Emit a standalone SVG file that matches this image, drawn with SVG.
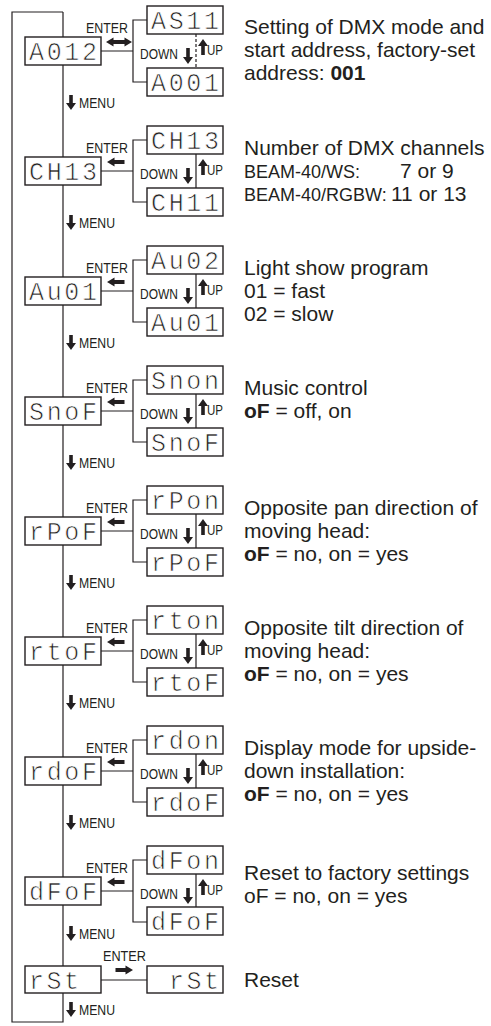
<svg xmlns="http://www.w3.org/2000/svg" width="491" height="1026" viewBox="0 0 491 1026">
<style>
.ln{stroke:#231f20;stroke-width:1.2;fill:none}
.dash{stroke:#231f20;stroke-width:1.2;fill:none;stroke-dasharray:3 2}
.box{fill:#fff;stroke:#231f20;stroke-width:1.4}
.seg{font-family:"Liberation Mono","DejaVu Sans Mono",monospace;font-size:25px;fill:#231f20;stroke:#fff;stroke-width:0.7}
.lbl{font-family:"Liberation Sans",Arial,sans-serif;font-size:15px;fill:#231f20}
.desc{font-family:"Liberation Sans",Arial,sans-serif;font-size:21px;fill:#231f20}
.sm{font-family:"Liberation Sans",Arial,sans-serif;font-size:18px;fill:#231f20}
.arr{fill:#231f20}
</style>
<defs>
<path id="mdn" d="M-1.8 0h3.6v8h3.2l-5 7l-5-7h3.2z"/>
<path id="dn" d="M-1.8 0h3.6v9h3.2l-5 7l-5-7h3.2z"/>
<path id="up" d="M0 0l5 7h-3.2v9h-3.6v-9h-3.2z"/>
<path id="lt" d="M0 0l7.5-4.5v2.6h10v3.8h-10v2.6z"/>
<path id="rt" d="M0 0l-7.5-4.5v2.6h-10v3.8h10v2.6z"/>
<path id="dbl" d="M0 0l7.5-4.5v2.6h11v-2.6l7.5 4.5l-7.5 4.5v-2.6h-11v2.6z"/>
</defs>
<g id="connectors">
<path class="ln" d="M63 12H12V1022H63V12"/>
<g id="c0"><path class="ln" d="M101 51H133M147 20H133V82H147"/><path class="dash" d="M196 34V68"/><use class="arr" href="#dbl" x="106" y="42"/><use class="arr" href="#dn" x="188" y="48"/><use class="arr" href="#up" x="203" y="39"/><use class="arr" href="#mdn" x="71" y="95"/></g>
<g id="c1" transform="translate(0,120)"><path class="ln" d="M101 51H133M147 20H133V82H147M196 34V68"/><use class="arr" href="#lt" x="107" y="42"/><use class="arr" href="#dn" x="188" y="48"/><use class="arr" href="#up" x="203" y="39"/><use class="arr" href="#mdn" x="71" y="95"/></g>
<g id="c2" transform="translate(0,240)"><path class="ln" d="M101 51H133M147 20H133V82H147M196 34V68"/><use class="arr" href="#lt" x="107" y="42"/><use class="arr" href="#dn" x="188" y="48"/><use class="arr" href="#up" x="203" y="39"/><use class="arr" href="#mdn" x="71" y="95"/></g>
<g id="c3" transform="translate(0,360)"><path class="ln" d="M101 51H133M147 20H133V82H147M196 34V68"/><use class="arr" href="#lt" x="107" y="42"/><use class="arr" href="#dn" x="188" y="48"/><use class="arr" href="#up" x="203" y="39"/><use class="arr" href="#mdn" x="71" y="95"/></g>
<g id="c4" transform="translate(0,480)"><path class="ln" d="M101 51H133M147 20H133V82H147M196 34V68"/><use class="arr" href="#lt" x="107" y="42"/><use class="arr" href="#dn" x="188" y="48"/><use class="arr" href="#up" x="203" y="39"/><use class="arr" href="#mdn" x="71" y="95"/></g>
<g id="c5" transform="translate(0,600)"><path class="ln" d="M101 51H133M147 20H133V82H147M196 34V68"/><use class="arr" href="#lt" x="107" y="42"/><use class="arr" href="#dn" x="188" y="48"/><use class="arr" href="#up" x="203" y="39"/><use class="arr" href="#mdn" x="71" y="95"/></g>
<g id="c6" transform="translate(0,720)"><path class="ln" d="M101 51H133M147 20H133V82H147M196 34V68"/><use class="arr" href="#lt" x="107" y="42"/><use class="arr" href="#dn" x="188" y="48"/><use class="arr" href="#up" x="203" y="39"/><use class="arr" href="#mdn" x="71" y="95"/></g>
<g id="c7" transform="translate(0,840)"><path class="ln" d="M101 51H133M147 20H133V82H147M196 34V68"/><use class="arr" href="#lt" x="107" y="42"/><use class="arr" href="#dn" x="188" y="48"/><use class="arr" href="#up" x="203" y="39"/><use class="arr" href="#mdn" x="71" y="86"/></g>
<g id="c8"><path class="ln" d="M101 980H147"/><use class="arr" href="#rt" x="133" y="970"/><use class="arr" href="#mdn" x="71" y="1002"/></g>
</g>
<g id="labels">
<text class="lbl" x="86" y="33" textLength="42" lengthAdjust="spacingAndGlyphs">ENTER</text><text class="lbl" x="140" y="59" textLength="38" lengthAdjust="spacingAndGlyphs">DOWN</text><text class="lbl" x="207" y="55" textLength="16" lengthAdjust="spacingAndGlyphs">UP</text><text class="lbl" x="79" y="108" textLength="36" lengthAdjust="spacingAndGlyphs">MENU</text>
<text class="lbl" x="86" y="153" textLength="42" lengthAdjust="spacingAndGlyphs">ENTER</text><text class="lbl" x="140" y="179" textLength="38" lengthAdjust="spacingAndGlyphs">DOWN</text><text class="lbl" x="207" y="175" textLength="16" lengthAdjust="spacingAndGlyphs">UP</text><text class="lbl" x="79" y="228" textLength="36" lengthAdjust="spacingAndGlyphs">MENU</text>
<text class="lbl" x="86" y="273" textLength="42" lengthAdjust="spacingAndGlyphs">ENTER</text><text class="lbl" x="140" y="299" textLength="38" lengthAdjust="spacingAndGlyphs">DOWN</text><text class="lbl" x="207" y="295" textLength="16" lengthAdjust="spacingAndGlyphs">UP</text><text class="lbl" x="79" y="348" textLength="36" lengthAdjust="spacingAndGlyphs">MENU</text>
<text class="lbl" x="86" y="393" textLength="42" lengthAdjust="spacingAndGlyphs">ENTER</text><text class="lbl" x="140" y="419" textLength="38" lengthAdjust="spacingAndGlyphs">DOWN</text><text class="lbl" x="207" y="415" textLength="16" lengthAdjust="spacingAndGlyphs">UP</text><text class="lbl" x="79" y="468" textLength="36" lengthAdjust="spacingAndGlyphs">MENU</text>
<text class="lbl" x="86" y="513" textLength="42" lengthAdjust="spacingAndGlyphs">ENTER</text><text class="lbl" x="140" y="539" textLength="38" lengthAdjust="spacingAndGlyphs">DOWN</text><text class="lbl" x="207" y="535" textLength="16" lengthAdjust="spacingAndGlyphs">UP</text><text class="lbl" x="79" y="588" textLength="36" lengthAdjust="spacingAndGlyphs">MENU</text>
<text class="lbl" x="86" y="633" textLength="42" lengthAdjust="spacingAndGlyphs">ENTER</text><text class="lbl" x="140" y="659" textLength="38" lengthAdjust="spacingAndGlyphs">DOWN</text><text class="lbl" x="207" y="655" textLength="16" lengthAdjust="spacingAndGlyphs">UP</text><text class="lbl" x="79" y="708" textLength="36" lengthAdjust="spacingAndGlyphs">MENU</text>
<text class="lbl" x="86" y="753" textLength="42" lengthAdjust="spacingAndGlyphs">ENTER</text><text class="lbl" x="140" y="779" textLength="38" lengthAdjust="spacingAndGlyphs">DOWN</text><text class="lbl" x="207" y="775" textLength="16" lengthAdjust="spacingAndGlyphs">UP</text><text class="lbl" x="79" y="828" textLength="36" lengthAdjust="spacingAndGlyphs">MENU</text>
<text class="lbl" x="86" y="873" textLength="42" lengthAdjust="spacingAndGlyphs">ENTER</text><text class="lbl" x="140" y="899" textLength="38" lengthAdjust="spacingAndGlyphs">DOWN</text><text class="lbl" x="207" y="895" textLength="16" lengthAdjust="spacingAndGlyphs">UP</text><text class="lbl" x="79" y="939" textLength="36" lengthAdjust="spacingAndGlyphs">MENU</text>
<text class="lbl" x="103" y="961" textLength="43" lengthAdjust="spacingAndGlyphs">ENTER</text><text class="lbl" x="79" y="1015" textLength="36" lengthAdjust="spacingAndGlyphs">MENU</text>
</g>
<g id="n0"><rect class="box" x="25" y="37" width="76" height="28"/><text class="seg" x="29" y="59.5" textLength="68">A012</text></g>
<g id="n0a"><rect class="box" x="147" y="6" width="76" height="28"/><text class="seg" x="151" y="28.5" textLength="68">AS11</text></g>
<g id="n0b"><rect class="box" x="147" y="68" width="76" height="28"/><text class="seg" x="151" y="90.5" textLength="68">A001</text></g>
<g id="n1"><rect class="box" x="25" y="157" width="76" height="28"/><text class="seg" x="29" y="179.5" textLength="68">CH13</text></g>
<g id="n1a"><rect class="box" x="147" y="126" width="76" height="28"/><text class="seg" x="151" y="148.5" textLength="68">CH13</text></g>
<g id="n1b"><rect class="box" x="147" y="188" width="76" height="28"/><text class="seg" x="151" y="210.5" textLength="68">CH11</text></g>
<g id="n2"><rect class="box" x="25" y="277" width="76" height="28"/><text class="seg" x="29" y="299.5" textLength="68">Au01</text></g>
<g id="n2a"><rect class="box" x="147" y="246" width="76" height="28"/><text class="seg" x="151" y="268.5" textLength="68">Au02</text></g>
<g id="n2b"><rect class="box" x="147" y="308" width="76" height="28"/><text class="seg" x="151" y="330.5" textLength="68">Au01</text></g>
<g id="n3"><rect class="box" x="25" y="397" width="76" height="28"/><text class="seg" x="29" y="419.5" textLength="68">SnoF</text></g>
<g id="n3a"><rect class="box" x="147" y="366" width="76" height="28"/><text class="seg" x="151" y="388.5" textLength="68">Snon</text></g>
<g id="n3b"><rect class="box" x="147" y="428" width="76" height="28"/><text class="seg" x="151" y="450.5" textLength="68">SnoF</text></g>
<g id="n4"><rect class="box" x="25" y="517" width="76" height="28"/><text class="seg" x="29" y="539.5" textLength="68">rPoF</text></g>
<g id="n4a"><rect class="box" x="147" y="486" width="76" height="28"/><text class="seg" x="151" y="508.5" textLength="68">rPon</text></g>
<g id="n4b"><rect class="box" x="147" y="548" width="76" height="28"/><text class="seg" x="151" y="570.5" textLength="68">rPoF</text></g>
<g id="n5"><rect class="box" x="25" y="637" width="76" height="28"/><text class="seg" x="29" y="659.5" textLength="68">rtoF</text></g>
<g id="n5a"><rect class="box" x="147" y="606" width="76" height="28"/><text class="seg" x="151" y="628.5" textLength="68">rton</text></g>
<g id="n5b"><rect class="box" x="147" y="668" width="76" height="28"/><text class="seg" x="151" y="690.5" textLength="68">rtoF</text></g>
<g id="n6"><rect class="box" x="25" y="757" width="76" height="28"/><text class="seg" x="29" y="779.5" textLength="68">rdoF</text></g>
<g id="n6a"><rect class="box" x="147" y="726" width="76" height="28"/><text class="seg" x="151" y="748.5" textLength="68">rdon</text></g>
<g id="n6b"><rect class="box" x="147" y="788" width="76" height="28"/><text class="seg" x="151" y="810.5" textLength="68">rdoF</text></g>
<g id="n7"><rect class="box" x="25" y="877" width="76" height="28"/><text class="seg" x="29" y="899.5" textLength="68">dFoF</text></g>
<g id="n7a"><rect class="box" x="147" y="846" width="76" height="28"/><text class="seg" x="151" y="868.5" textLength="68">dFon</text></g>
<g id="n7b"><rect class="box" x="147" y="907" width="76" height="28"/><text class="seg" x="151" y="929.5" textLength="68">dFoF</text></g>
<g id="n8"><rect class="box" x="25" y="966" width="76" height="27"/><text class="seg" x="29" y="988.5" textLength="50">rSt</text></g>
<g id="n8a"><rect class="box" x="147" y="966" width="76" height="27"/><text class="seg" x="169" y="988.5" textLength="50">rSt</text></g>
<g id="descriptions">
<text class="desc" x="244" y="34">Setting of DMX mode and</text>
<text class="desc" x="244" y="57">start address, factory-set</text>
<text class="desc" x="244" y="80">address: <tspan font-weight="bold">001</tspan></text>
<text class="desc" x="244" y="155">Number of DMX channels</text>
<text class="sm" x="244" y="178">BEAM-40/WS:</text><text class="desc" x="400" y="178">7 or 9</text>
<text class="sm" x="244" y="201">BEAM-40/RGBW:</text><text class="desc" x="391" y="201">11 or 13</text>
<text class="desc" x="244" y="275">Light show program</text>
<text class="desc" x="244" y="298">01 = fast</text>
<text class="desc" x="244" y="321">02 = slow</text>
<text class="desc" x="244" y="395">Music control</text>
<text class="desc" x="244" y="418"><tspan font-weight="bold">oF</tspan> = off, on</text>
<text class="desc" x="244" y="515">Opposite pan direction of</text>
<text class="desc" x="244" y="538">moving head:</text>
<text class="desc" x="244" y="561"><tspan font-weight="bold">oF</tspan> = no, on = yes</text>
<text class="desc" x="244" y="635">Opposite tilt direction of</text>
<text class="desc" x="244" y="658">moving head:</text>
<text class="desc" x="244" y="681"><tspan font-weight="bold">oF</tspan> = no, on = yes</text>
<text class="desc" x="244" y="755">Display mode for upside-</text>
<text class="desc" x="244" y="778">down installation:</text>
<text class="desc" x="244" y="801"><tspan font-weight="bold">oF</tspan> = no, on = yes</text>
<text class="desc" x="244" y="880">Reset to factory settings</text>
<text class="desc" x="244" y="903">oF = no, on = yes</text>
<text class="desc" x="244" y="987">Reset</text>
</g>
</svg>
